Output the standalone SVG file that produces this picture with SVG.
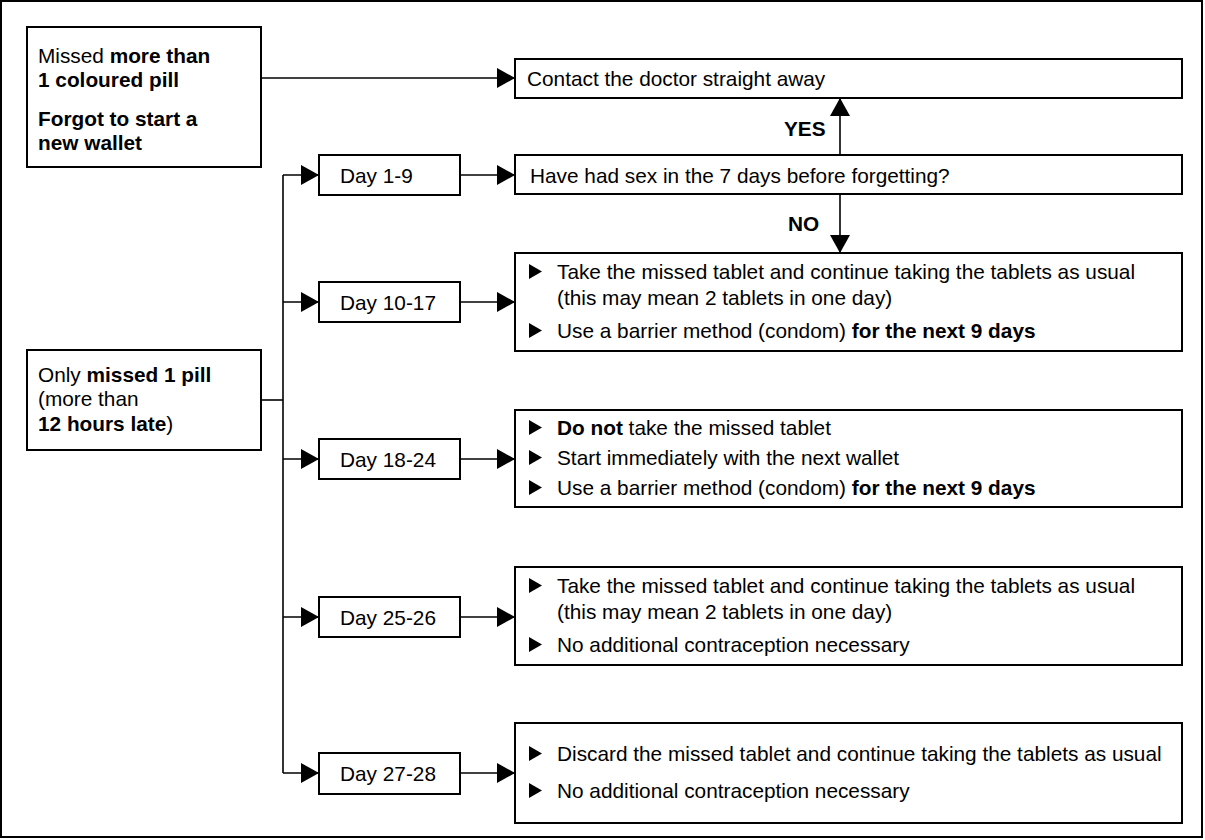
<svg xmlns="http://www.w3.org/2000/svg" width="1205" height="840" viewBox="0 0 1205 840">
<defs>
<style>
text{font-family:"Liberation Sans",Arial,Helvetica,sans-serif;font-size:20.8px;fill:#000}
.b{font-weight:bold}
.box{fill:#fff;stroke:#000;stroke-width:2}
.ln{fill:none;stroke:#000;stroke-width:1.6}
.arr{marker-end:url(#ah)}
</style>
<marker id="ah" markerUnits="userSpaceOnUse" markerWidth="18" markerHeight="20" refX="18" refY="10" orient="auto" viewBox="0 0 18 20">
<path d="M0,0 L18,10 L0,20 z" fill="#000"/>
</marker>
<polygon id="bul" points="0,-1 13,6.5 0,14" fill="#000"/>
</defs>
<rect x="1" y="1" width="1201" height="836" fill="#fff" stroke="#000" stroke-width="2"/>

<g id="connectors">
<line class="ln arr" x1="261" y1="78" x2="515" y2="78"/>
<line class="ln arr" x1="840" y1="155" x2="840" y2="98"/>
<line class="ln arr" x1="840" y1="194" x2="840" y2="253"/>
<line class="ln" x1="261" y1="400" x2="283" y2="400"/>
<line class="ln" x1="283" y1="175" x2="283" y2="773"/>
<line class="ln arr" x1="283" y1="175" x2="319" y2="175"/>
<line class="ln arr" x1="283" y1="302" x2="319" y2="302"/>
<line class="ln arr" x1="283" y1="459" x2="319" y2="459"/>
<line class="ln arr" x1="283" y1="617" x2="319" y2="617"/>
<line class="ln arr" x1="283" y1="773" x2="319" y2="773"/>
<line class="ln arr" x1="460" y1="175" x2="515" y2="175"/>
<line class="ln arr" x1="460" y1="302" x2="515" y2="302"/>
<line class="ln arr" x1="460" y1="459" x2="515" y2="459"/>
<line class="ln arr" x1="460" y1="617" x2="515" y2="617"/>
<line class="ln arr" x1="460" y1="773" x2="515" y2="773"/>
<text class="b" x="784" y="136">YES</text>
<text class="b" x="788" y="231">NO</text>
</g>

<g id="missed-more">
<rect class="box" x="27" y="27" width="234" height="140"/>
<text x="38" y="63">Missed <tspan class="b">more than</tspan></text>
<text class="b" x="38" y="87">1 coloured pill</text>
<text class="b" x="38" y="126">Forgot to start a</text>
<text class="b" x="38" y="150">new wallet</text>
</g>

<g id="missed-one">
<rect class="box" x="27" y="350" width="234" height="100"/>
<text x="38" y="382">Only <tspan class="b">missed 1 pill</tspan></text>
<text x="38" y="406">(more than</text>
<text x="38" y="431"><tspan class="b">12 hours late</tspan>)</text>
</g>

<g id="contact">
<rect class="box" x="515" y="59" width="667" height="39"/>
<text x="527" y="86">Contact the doctor straight away</text>
</g>

<g id="sex-question">
<rect class="box" x="515" y="155" width="667" height="39"/>
<text x="530" y="183">Have had sex in the 7 days before forgetting?</text>
</g>

<g id="day1-9">
<rect class="box" x="319" y="155" width="141" height="40"/>
<text x="340" y="183">Day 1-9</text>
</g>

<g id="day10-17">
<rect class="box" x="319" y="282" width="141" height="40"/>
<text x="340" y="310">Day 10-17</text>
</g>

<g id="day18-24">
<rect class="box" x="319" y="439" width="141" height="40"/>
<text x="340" y="467">Day 18-24</text>
</g>

<g id="day25-26">
<rect class="box" x="319" y="597" width="141" height="40"/>
<text x="340" y="625">Day 25-26</text>
</g>

<g id="day27-28">
<rect class="box" x="319" y="753" width="141" height="41"/>
<text x="340" y="781">Day 27-28</text>
</g>

<g id="action10-17">
<rect class="box" x="515" y="253" width="667" height="98"/>
<use href="#bul" x="529" y="265"/>
<text x="557" y="279">Take the missed tablet and continue taking the tablets as usual</text>
<text x="557" y="305">(this may mean 2 tablets in one day)</text>
<use href="#bul" x="529" y="324"/>
<text x="557" y="338">Use a barrier method (condom) <tspan class="b">for the next 9 days</tspan></text>
</g>

<g id="action18-24">
<rect class="box" x="515" y="410" width="667" height="97"/>
<use href="#bul" x="529" y="421"/>
<text x="557" y="435"><tspan class="b">Do not</tspan> take the missed tablet</text>
<use href="#bul" x="529" y="451"/>
<text x="557" y="465">Start immediately with the next wallet</text>
<use href="#bul" x="529" y="481"/>
<text x="557" y="495">Use a barrier method (condom) <tspan class="b">for the next 9 days</tspan></text>
</g>

<g id="action25-26">
<rect class="box" x="515" y="567" width="667" height="98"/>
<use href="#bul" x="529" y="579"/>
<text x="557" y="593">Take the missed tablet and continue taking the tablets as usual</text>
<text x="557" y="619">(this may mean 2 tablets in one day)</text>
<use href="#bul" x="529" y="638"/>
<text x="557" y="652">No additional contraception necessary</text>
</g>

<g id="action27-28">
<rect class="box" x="515" y="723" width="667" height="100"/>
<use href="#bul" x="529" y="747"/>
<text x="557" y="761">Discard the missed tablet and continue taking the tablets as usual</text>
<use href="#bul" x="529" y="784"/>
<text x="557" y="798">No additional contraception necessary</text>
</g>
</svg>
